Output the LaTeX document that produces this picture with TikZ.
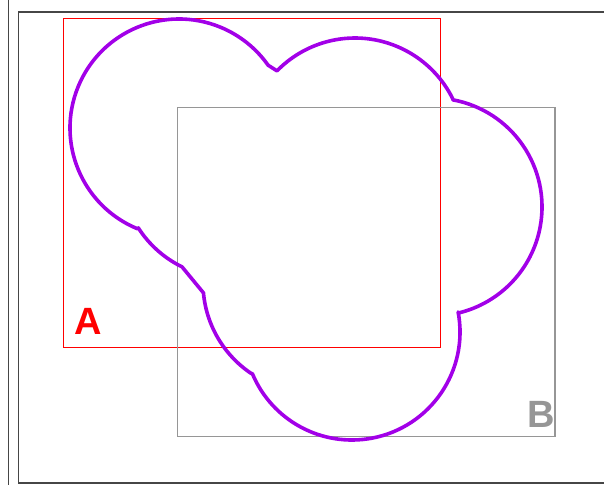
\documentclass[tikz,border=0pt]{standalone}
\usepackage{fontspec}
\usetikzlibrary{calc}
\setmainfont{Liberation Sans}
\definecolor{blob}{RGB}{162,0,232}
\definecolor{bgray}{RGB}{150,150,150}
\definecolor{framegray}{RGB}{70,70,70}
\tikzset{
  frameline/.style={draw=framegray, line width=1.6pt},
  rectA/.style={draw=red, line width=1pt},
  rectB/.style={draw=bgray, line width=1.3pt},
  blobline/.style={draw=blob, line width=3.6pt, line join=round},
  biglabel/.style={font=\fontsize{38}{38}\selectfont\bfseries, inner sep=0pt}
}
\begin{document}
\begin{tikzpicture}[x=1pt,y=-1pt]
\useasboundingbox (0,0) rectangle (604,485);
% outer frame
\draw[frameline] (8.5,0) -- (8.5,485);
\draw[frameline] (604,12) -- (18.5,12) -- (18.5,483) -- (604,483);
% rectangles
\draw[rectA] (63.5,18.5) rectangle (440.5,347.5);
\draw[rectB] (177.5,107.5) rectangle (555,436.5);
% blob
\draw[blobline]
  ($(179,128)+(112.3:109)$) arc[start angle=112.3, end angle=324.8, radius=109]
  -- ($(355,147)+(224.3:109)$) arc[start angle=224.3, end angle=333.7, radius=109]
  -- ($(433,207)+(280.5:109)$) arc[start angle=280.5, end angle=436.6, radius=109]
  -- ($(352,332)+(-10.7:108)$) arc[start angle=-10.7, end angle=157.4, radius=108]
  -- ($(312,283)+(123.8:109)$) arc[start angle=123.8, end angle=174.8, radius=109]
  -- ($(230,169)+(116.1:109)$) arc[start angle=116.1, end angle=147.3, radius=109]
  -- cycle;
% labels
\node[biglabel, text=red] (labA) at (88,321) {A};
\node[biglabel, text=bgray] (labB) at (541.5,414) {B};
\end{tikzpicture}
\end{document}
